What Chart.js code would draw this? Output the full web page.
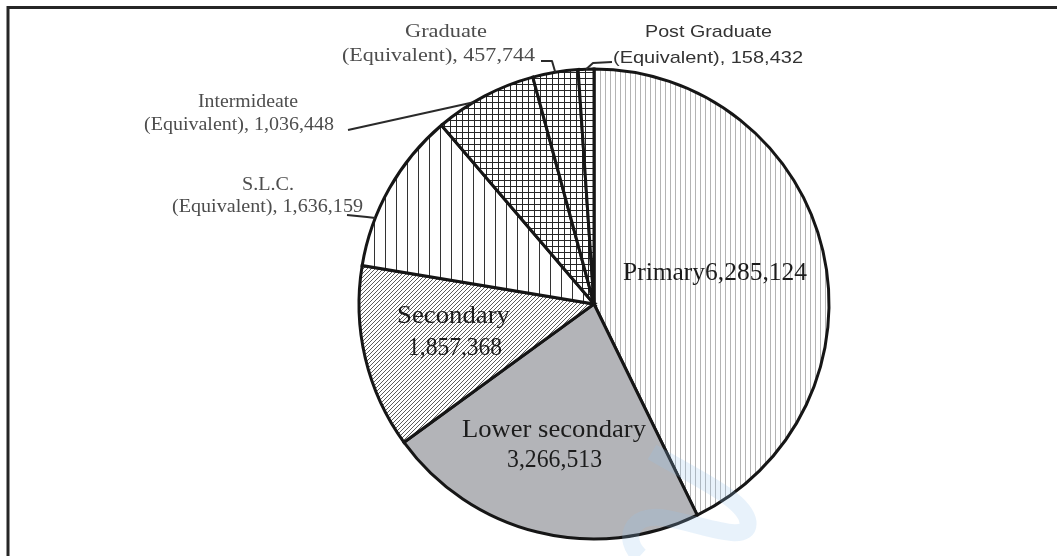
<!DOCTYPE html>
<html>
<head>
<meta charset="utf-8">
<script src="https://cdn.jsdelivr.net/npm/chart.js@4"></script>
<style>
  html, body { margin: 0; padding: 0; background: #fff; }
  #wrap { width: 1057px; height: 556px; position: relative; }
</style>
</head>
<body>
<div id="wrap"><canvas id="pie"></canvas></div>
<script>
// education level -> number of people
const levels = ['Primary', 'Lower secondary', 'Secondary', 'S.L.C.', 'Intermideate', 'Graduate', 'Post Graduate'];
const people = [6285124, 3266513, 1857368, 1636159, 1036448, 457744, 158432];

const fmt = (n) => n.toLocaleString('en-US');

// small tiles used as fill patterns for the slices
const makeTile = (w, h, draw) => {
  const c = document.createElement('canvas');
  c.width = w; c.height = h;
  const g = c.getContext('2d');
  g.fillStyle = '#fff';
  g.fillRect(0, 0, w, h);
  draw(g, w, h);
  return document.getElementById('pie').getContext('2d').createPattern(c, 'repeat');
};

const vLines = (color, lw) => (g, w, h) => {
  g.strokeStyle = color; g.lineWidth = lw;
  g.beginPath(); g.moveTo(0.5, 0); g.lineTo(0.5, h); g.stroke();
};
const grid = (color) => (g, w, h) => {
  g.strokeStyle = color; g.lineWidth = 1;
  g.beginPath();
  g.moveTo(0.5, 0); g.lineTo(0.5, h);
  g.moveTo(0, 0.5); g.lineTo(w, 0.5);
  g.stroke();
};
const diag = (g, w, h) => {
  g.strokeStyle = '#5c5c5c'; g.lineWidth = 1;
  g.beginPath();
  g.moveTo(-1, h + 1); g.lineTo(w + 1, -1);
  g.moveTo(-1, 1); g.lineTo(1, -1);
  g.moveTo(w - 1, h + 1); g.lineTo(w + 1, h - 1);
  g.stroke();
};

const fills = [
  makeTile(5, 5, vLines('#b4b4b4', 1)),   // Primary
  '#b3b4b8',                              // Lower secondary
  makeTile(4, 4, diag),                   // Secondary
  makeTile(11, 4, vLines('#333', 1)),     // S.L.C.
  makeTile(6, 6, grid('#262626')),        // Intermideate
  makeTile(6, 6, grid('#262626')),        // Graduate
  makeTile(9, 6, grid('#262626'))         // Post Graduate
];

// draw text stretched between x1 and x2
const fitText = (ctx, text, x1, x2, base, font, color) => {
  ctx.save();
  ctx.font = font;
  ctx.fillStyle = color;
  ctx.textBaseline = 'alphabetic';
  ctx.textAlign = 'left';
  const w = ctx.measureText(text).width;
  ctx.translate(x1, base);
  ctx.scale((x2 - x1) / w, 1);
  ctx.fillText(text, 0, 0);
  ctx.restore();
};

const edgePoint = (arc, t) => {
  const a = arc.startAngle + (arc.endAngle - arc.startAngle) * t;
  return { x: arc.x + arc.outerRadius * Math.cos(a), y: arc.y + arc.outerRadius * Math.sin(a) };
};

const framePlugin = {
  id: 'frame',
  beforeDraw(chart) {
    const ctx = chart.ctx;
    ctx.save();
    ctx.fillStyle = '#fff';
    ctx.fillRect(0, 0, chart.width, chart.height);
    ctx.strokeStyle = '#262626';
    ctx.lineWidth = 3;
    ctx.beginPath();
    ctx.moveTo(1057, 7.5);
    ctx.lineTo(8, 7.5);
    ctx.lineTo(8, 556);
    ctx.stroke();
    ctx.restore();
  }
};

const labelPlugin = {
  id: 'sliceLabels',
  afterDatasetsDraw(chart) {
    const ctx = chart.ctx;
    const arcs = chart.getDatasetMeta(0).data;
    const big = '26px "Liberation Serif"';
    const small = '18px "Liberation Serif"';
    const smallSans = '17px "Liberation Sans"';
    const ink = '#1c1c1c';
    const grey = '#4d4d4d';

    // labels inside the slices
    fitText(ctx, levels[0] + fmt(people[0]), 623, 807, 280, big, ink);
    fitText(ctx, levels[1], 462, 646, 437, big, ink);
    fitText(ctx, fmt(people[1]), 507, 602, 467, big, ink);
    fitText(ctx, levels[2], 397, 510, 323, big, ink);
    fitText(ctx, fmt(people[2]), 408, 502, 355, big, ink);

    // labels outside with leader lines
    fitText(ctx, levels[3], 242, 294, 190, small, grey);
    fitText(ctx, '(Equivalent), ' + fmt(people[3]), 172, 363, 212, small, grey);
    fitText(ctx, levels[4], 198, 298, 107, small, grey);
    fitText(ctx, '(Equivalent), ' + fmt(people[4]), 144, 334, 130, small, grey);
    fitText(ctx, levels[5], 405, 487, 37, small, grey);
    fitText(ctx, '(Equivalent), ' + fmt(people[5]), 342, 535, 61, small, grey);
    fitText(ctx, levels[6], 645, 772, 37, smallSans, '#333');
    fitText(ctx, '(Equivalent), ' + fmt(people[6]), 613, 803, 63, smallSans, '#333');

    ctx.save();
    ctx.strokeStyle = '#2a2a2a';
    ctx.lineWidth = 2;
    ctx.lineJoin = 'round';
    const leader = (pts) => {
      ctx.beginPath();
      ctx.moveTo(pts[0][0], pts[0][1]);
      for (let i = 1; i < pts.length; i++) ctx.lineTo(pts[i][0], pts[i][1]);
      ctx.stroke();
    };
    let p = edgePoint(arcs[3], 0.3);
    leader([[347, 215], [367, 217], [p.x, p.y]]);
    p = edgePoint(arcs[4], 0.38);
    leader([[348, 130], [p.x, p.y]]);
    p = edgePoint(arcs[5], 0.5);
    leader([[541, 61], [552, 61], [p.x, p.y]]);
    p = edgePoint(arcs[6], 0.5);
    leader([[612, 62], [593, 63], [p.x, p.y]]);
    ctx.restore();

    // faint watermark stroke near the bottom
    ctx.save();
    ctx.strokeStyle = 'rgba(150, 195, 235, 0.22)';
    ctx.lineWidth = 17;
    ctx.lineCap = 'butt';
    ctx.beginPath();
    ctx.moveTo(652, 452);
    ctx.bezierCurveTo(700, 480, 745, 500, 748, 522);
    ctx.bezierCurveTo(750, 545, 705, 525, 665, 518);
    ctx.bezierCurveTo(630, 512, 622, 540, 640, 556);
    ctx.stroke();
    ctx.restore();
  }
};

new Chart(document.getElementById('pie'), {
  type: 'pie',
  data: {
    labels: levels,
    datasets: [{
      data: people,
      backgroundColor: fills,
      borderColor: '#161616',
      borderWidth: 3,
      borderJoinStyle: 'miter'
    }]
  },
  options: {
    responsive: true,
    maintainAspectRatio: false,
    animation: false,
    events: [],
    radius: 235,
    layout: { padding: { left: 344, right: 213, top: 54, bottom: 2 } },
    plugins: {
      legend: { display: false },
      tooltip: { enabled: false }
    }
  },
  plugins: [framePlugin, labelPlugin]
});
</script>
</body>
</html>
